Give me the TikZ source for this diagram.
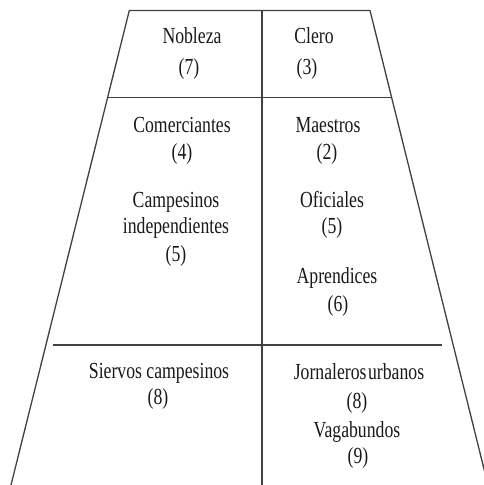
\documentclass[tikz,border=0pt]{standalone}
\usepackage{fontspec}
\setmainfont{Liberation Serif}
\usepackage{graphicx}
\newcommand\sqz[1]{\scalebox{0.77}[1]{#1}}
\tikzset{
  edge/.style={draw=black!75, line width=1.3pt},
  lbl/.style={anchor=base, inner sep=0pt, text=black!90, font=\fontsize{23}{27}\selectfont}
}
\begin{document}
\begin{tikzpicture}[x=1pt,y=-1pt]
\useasboundingbox (0,0) rectangle (484,485);
\clip (0,0) rectangle (484,485);
% trapezoid corners
\coordinate (tl) at (129.3,10.5);
\coordinate (tr) at (370,10.5);
\coordinate (bl) at (11,485);
\coordinate (br) at (488,485);
\coordinate (ml) at (107.6,97.5);
\coordinate (mr) at (391.6,97.5);
\coordinate (ll) at (53,345);
\coordinate (lr) at (442,345);
\coordinate (vt) at (262,10.5);
\coordinate (vb) at (262,485);
\draw[edge] (bl) -- (tl) -- (tr) -- (br);
\draw[edge] (ml) -- (mr);
\draw[edge] (ll) -- (lr);
\draw[edge] (vt) -- (vb);
% labels
\node[lbl] (nob) at (192,43) {\sqz{Nobleza}};
\node[lbl] (nobn) at (189,74) {\sqz{(7)}};
\node[lbl] (cle) at (314,43) {\sqz{Clero}};
\node[lbl] (clen) at (307,74) {\sqz{(3)}};
\node[lbl] (com) at (182,132) {\sqz{Comerciantes}};
\node[lbl] (comn) at (182,159) {\sqz{(4)}};
\node[lbl] (cam) at (176,207) {\sqz{Campesinos}};
\node[lbl] (ind) at (176,233) {\sqz{independientes}};
\node[lbl] (camn) at (176,261) {\sqz{(5)}};
\node[lbl] (mae) at (328,132) {\sqz{Maestros}};
\node[lbl] (maen) at (327,159) {\sqz{(2)}};
\node[lbl] (ofi) at (332,207) {\sqz{Oficiales}};
\node[lbl] (ofin) at (332,233) {\sqz{(5)}};
\node[lbl] (apr) at (337,283) {\sqz{Aprendices}};
\node[lbl] (aprn) at (338,311) {\sqz{(6)}};
\node[lbl] (sie) at (159,378) {\sqz{Siervos campesinos}};
\node[lbl] (sien) at (158,404) {\sqz{(8)}};
\node[lbl] (jor) at (359,379) {\sqz{Jornaleros\kern2pt urbanos}};
\node[lbl] (jorn) at (357,408) {\sqz{(8)}};
\node[lbl] (vag) at (357,437) {\sqz{Vagabundos}};
\node[lbl] (vagn) at (358,463) {\sqz{(9)}};
\end{tikzpicture}
\end{document}
